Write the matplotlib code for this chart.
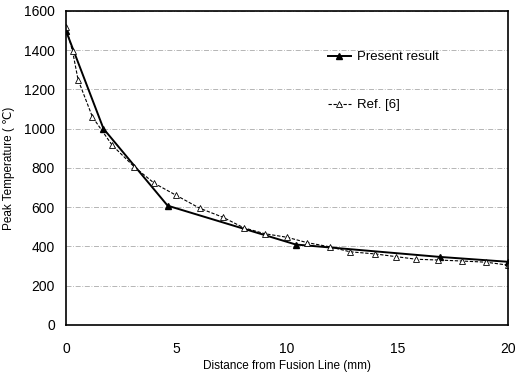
import numpy as np
import matplotlib.pyplot as plt

plt.rcParams['font.family'] = ['Liberation Sans', 'DejaVu Sans']

# Present result
x_present = [0, 1.7, 4.6, 10.4, 16.9, 20]
y_present = [1500, 1000, 608, 410, 347, 322]

# Ref. [6]
x_ref = [0, 0.3, 0.55, 1.2, 2.1, 3.1, 4.0, 5.0, 6.05, 7.1, 8.05, 9.0, 10.0,
         10.9, 11.95, 12.85, 14.0, 14.95, 15.85, 16.85, 17.9, 19.0, 20]
y_ref = [1520, 1395, 1250, 1060, 915, 805, 722, 660, 595, 549, 495, 465, 447,
         420, 398, 373, 362, 348, 335, 331, 326, 320, 305]

fig = plt.figure(figsize=(5.19, 3.79), dpi=100)
ax = fig.add_axes([0.127, 0.1425, 0.852, 0.8285])

ax.plot(x_present, y_present, color='black', lw=1.4, marker='^', ms=5,
        label='Present result')
ax.plot(x_ref, y_ref, color='black', lw=0.8, ls=(0, (3, 1.5)), marker='^',
        ms=5, mfc='white', mew=0.6, label='Ref. [6]')

ax.set_xlim(0, 20)
ax.set_ylim(0, 1600)
ax.set_xticks([0, 5, 10, 15, 20])
ax.set_yticks(np.arange(0, 1601, 200))
ax.grid(axis='y', color='#aaaaaa', lw=0.6, ls=(0, (6, 2, 1, 2)))
ax.tick_params(length=0, labelsize=10)
ax.tick_params(axis='x', pad=12)
ax.tick_params(axis='y', pad=8)
for s in ax.spines.values():
    s.set_linewidth(1.2)

ax.set_xlabel('Distance from Fusion Line (mm)', fontsize=8.5, labelpad=3)
ax.set_ylabel('Peak Temperature ( \u2103)', fontsize=8.5, labelpad=6)

ax.legend(loc='upper left', bbox_to_anchor=(0.565, 0.91), frameon=False,
          fontsize=9.5, labelspacing=2.7, handlelength=1.8, handletextpad=0.4)

fig.savefig('out.png', dpi=100)
